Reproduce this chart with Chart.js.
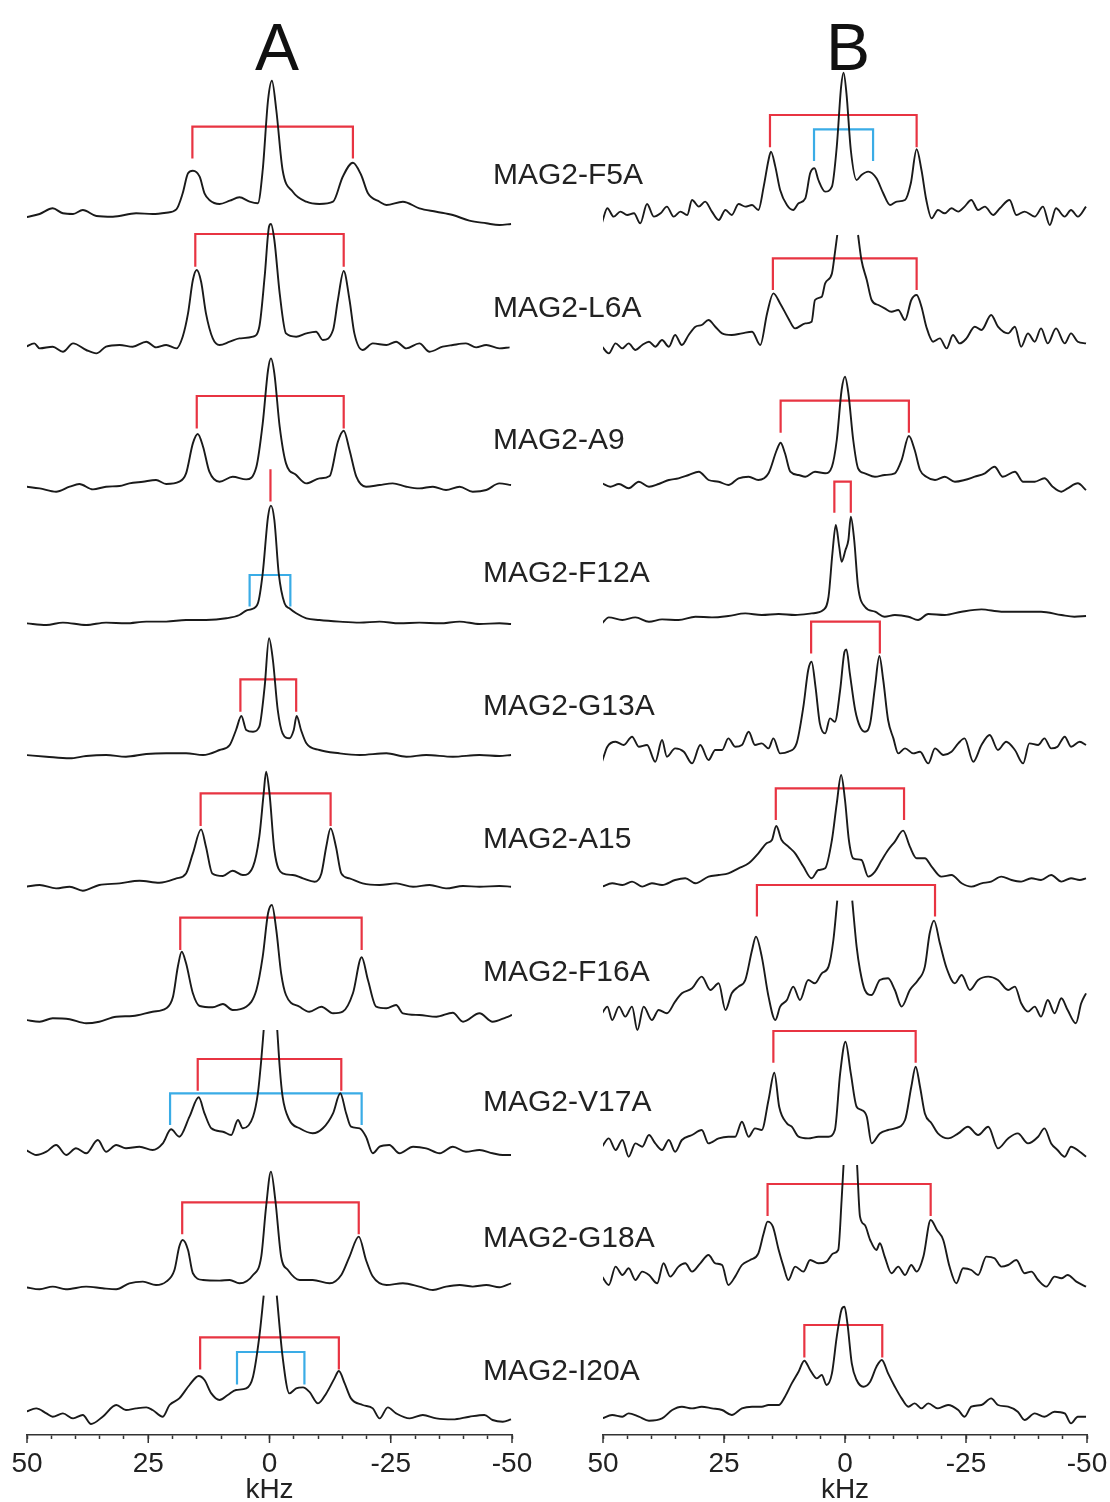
<!DOCTYPE html>
<html>
<head>
<meta charset="utf-8">
<script src="https://cdn.jsdelivr.net/npm/chart.js@4.4.1/dist/chart.umd.min.js"></script>
<style>
  html, body { margin:0; padding:0; background:#fff; }
  #page { position:relative; width:1110px; height:1502px; overflow:hidden; background:#fff;
          font-family:"Liberation Sans", Arial, sans-serif; color:#222; }
  canvas { position:absolute; top:0; }
  .ttl { position:absolute; font-size:66px; line-height:66px; width:100px; text-align:center; color:#111; }
  .lbl { position:absolute; font-size:30px; line-height:30px; white-space:nowrap; color:#222; z-index:5; }
</style>
</head>
<body>
<div id="page">
  <canvas id="cA" width="555" height="1512" style="left:0"></canvas>
  <canvas id="cB" width="600" height="1512" style="left:555px"></canvas>
</div>
<script>
// ---------------- DATA (kHz, intensity above local baseline) ----------------
const panelTitles = ['A', 'B'];
const mutants = ['MAG2-F5A','MAG2-L6A','MAG2-A9','MAG2-F12A','MAG2-G13A','MAG2-A15','MAG2-F16A','MAG2-V17A','MAG2-G18A','MAG2-I20A'];
const majorTicks = [50, 25, 0, -25, -50];
const axisTitle = 'kHz';

const A_F5A = [[50.2,-2.3],[47.4,1],[44.7,6.7],[42.6,1.7],[40.5,1],[38.5,5],[35.7,-1],[32.3,-1.7],[27.5,1.7],[24.1,1],[21.3,2.3],[19.2,5.7],[17.9,21.7],[16.8,41.7],[15.8,44.3],[14.4,38.3],[13.4,21.7],[12.4,15],[10.3,11],[8.2,14.3],[6.2,17.7],[4.1,13.3],[2.4,11.7],[1.4,45],[0.3,115],[-0.5,134.3],[-1.4,105],[-2.7,45],[-4.8,23.3],[-7.6,13.3],[-10.3,11],[-13.1,13.3],[-15.1,38.3],[-17.2,52.3],[-18.9,40],[-20.3,21.7],[-22.7,13.3],[-24.1,10],[-27.5,13.3],[-30.9,6.7],[-34.4,3.3],[-37.8,0],[-41.2,-5.7],[-44.7,-8.3],[-47.4,-10],[-49.8,-9]];
const A_L6A = [[50.2,0],[48.5,3.3],[47.4,-1.7],[44.7,0],[42.6,-5],[40.5,3.3],[37.8,-3.3],[35.7,-6.7],[33.7,0],[30.9,1.7],[28.2,0],[25.4,5],[23.4,-0.7],[21.3,1.7],[19.2,-1.7],[17.9,10],[16.8,33.3],[15.8,66.7],[15.0,76.7],[14.1,65],[13.1,33.3],[11.7,8.3],[10.3,1.7],[8.2,5],[6.2,8.3],[3.4,10],[2.1,20],[1.0,70],[0.1,120],[-0.3,122.7],[-1.0,106.7],[-2.1,53.3],[-3.4,13.3],[-5.5,10],[-7.6,13.3],[-9.6,15],[-11.0,6.7],[-13.1,16.7],[-14.1,46.7],[-15.3,75.7],[-16.5,46.7],[-17.5,13.3],[-19.2,-3.3],[-21.3,3.3],[-24.1,1.7],[-26.1,5],[-28.2,-1.7],[-30.9,3.3],[-33.0,-5],[-35.7,0],[-37.8,1.7],[-40.5,3.3],[-42.6,-0.7],[-44.7,1.7],[-47.4,-1.7],[-49.5,-0.7]];
const A_A9 = [[50.2,0],[47.4,-1.7],[44.0,-5],[41.2,0],[39.2,2.7],[36.4,-2.7],[33.7,0],[30.9,0.7],[28.9,3.3],[26.1,5],[23.4,6.7],[21.3,2.7],[18.6,5],[17.2,13.3],[15.8,43.3],[14.8,52.7],[13.7,40],[12.4,15],[10.3,5],[7.6,10],[4.8,7.3],[2.7,20],[1.4,63.3],[0.3,116.7],[-0.3,128.3],[-1.0,113.3],[-2.1,60],[-3.4,23.3],[-5.5,11.7],[-7.6,3.3],[-10.3,8.3],[-12.4,10.7],[-14.1,45],[-15.3,56],[-16.5,36.7],[-17.9,10],[-19.9,0],[-22.7,1.7],[-25.4,3.3],[-28.2,0],[-30.9,-1.7],[-33.7,0],[-36.4,-3.3],[-39.2,0],[-41.9,-5],[-44.7,-3.3],[-47.4,3.3],[-49.8,1.7]];
const A_F12A = [[50.2,0],[46.0,-1.7],[42.6,0.7],[37.8,-1.7],[33.7,0.7],[29.6,0],[25.4,1.7],[21.3,1.7],[17.2,3.3],[13.1,3.3],[8.9,5],[6.2,8.3],[4.8,12.7],[3.8,14],[2.4,20],[1.4,50],[0.3,106.7],[-0.3,117.7],[-1.0,103.3],[-1.9,50],[-3.1,20],[-4.1,15],[-5.5,10],[-7.6,5],[-10.3,3.3],[-14.4,1.7],[-18.6,0.7],[-22.7,1.7],[-26.8,0],[-30.9,0.7],[-35.1,0],[-39.2,1.7],[-43.3,-0.7],[-47.4,0],[-49.8,-0.7]];
const A_G13A = [[50.2,0],[46.0,-1.7],[41.2,-3.3],[37.8,-1],[33.7,0],[29.6,-1.7],[25.4,1],[21.3,1.7],[17.2,1.7],[13.7,0],[10.3,5],[8.2,10],[6.9,25],[5.8,39],[4.8,25],[3.4,23.3],[2.1,28.3],[1.0,68.3],[0.1,116.7],[-0.7,95],[-1.7,45],[-2.7,21.7],[-4.1,16.7],[-5.0,25],[-5.6,39],[-6.5,25],[-7.6,11.7],[-10.3,5],[-14.4,1.7],[-18.6,0],[-24.1,1.7],[-28.2,-1.7],[-32.3,0],[-37.8,-1.7],[-43.3,0],[-47.4,-1],[-49.8,0]];
const A_A15 = [[50.2,0],[47.4,1.7],[44.0,-1.7],[41.2,0],[38.5,-4],[35.1,1.7],[30.9,3.3],[26.8,6],[22.7,4],[19.2,8.3],[17.2,13.3],[15.8,33.3],[14.1,57.3],[13.1,40],[11.8,13.3],[9.6,10.7],[7.6,16],[5.5,11.7],[3.4,20],[2.1,50],[1.2,93.3],[0.7,115],[0,93.3],[-1.0,36.7],[-2.7,13.3],[-4.8,11.7],[-6.9,8.3],[-9.3,5],[-10.7,13.3],[-11.7,40],[-12.6,58.3],[-13.7,40],[-14.8,13.3],[-16.5,8.3],[-19.2,3.3],[-22.7,1.7],[-26.1,3.3],[-29.6,0],[-33.0,1.7],[-36.4,-1.7],[-39.9,0.7],[-43.3,0],[-47.4,0.7],[-49.8,0]];
const A_F16A = [[50.2,0],[47.4,-1.7],[44.7,1.7],[41.2,0.7],[37.8,-3.3],[35.1,-1.7],[31.6,3.3],[28.2,4],[24.1,8.3],[21.3,11.7],[19.9,23.3],[18.9,53.3],[18.1,68.3],[17.2,56.7],[15.8,26.7],[14.4,14],[11.7,12.7],[9.6,16],[7.6,10],[4.8,13.3],[2.7,30],[1.4,63.3],[0.3,106.7],[-0.5,115],[-1.4,90],[-2.4,46.7],[-3.4,25],[-6.2,13.3],[-8.2,8.3],[-10.7,13.3],[-13.1,6.7],[-15.1,8.3],[-17.2,26.7],[-19.0,62.7],[-20.3,40],[-22.0,13.3],[-24.1,11.7],[-26.1,15],[-27.5,6.7],[-30.9,5],[-34.4,3.3],[-37.8,7.3],[-39.9,-1.7],[-43.3,6.7],[-46.0,-1.7],[-48.8,2.7],[-50.0,5]];
const A_V17A = [[50.2,0],[48.1,-5],[46.0,-1.7],[44.0,5],[41.9,-5],[39.9,1.7],[37.8,-3.3],[35.4,10],[33.7,-1.7],[31.6,5],[29.6,1.7],[26.8,3.3],[24.1,0],[22.0,6.7],[20.3,20.7],[18.6,13.3],[16.5,33.3],[14.6,52.7],[13.4,36.7],[12.0,21.7],[9.6,18.3],[7.9,15],[6.5,30],[5.5,21.7],[3.4,33.3],[2.4,56.7],[1.7,90],[1.2,120],[0,null],[-1.6,120],[-2.1,83.3],[-2.7,53.3],[-4.1,30],[-6.2,21.7],[-8.9,16.7],[-11.0,21.7],[-13.1,36.7],[-14.6,56.7],[-15.8,36.7],[-16.8,23.3],[-18.6,21.7],[-19.9,13.3],[-21.3,-3.3],[-22.7,3.3],[-24.7,5],[-26.8,-3.3],[-29.6,3.3],[-32.3,1.7],[-35.1,-3.3],[-37.8,3.3],[-40.5,-1.7],[-43.3,0],[-46.0,-3.3],[-48.1,-5],[-49.8,-5]];
const A_G18A = [[50.2,1],[47.4,-1],[44.7,1.7],[42.0,-1],[37.8,1.7],[34.4,0],[31.6,-1],[28.9,5],[26.1,6.7],[23.4,3.3],[21.3,6.7],[19.6,18.3],[18.6,41.7],[17.9,48.3],[16.8,38.3],[15.8,15],[13.7,8.3],[10.3,7.7],[8.2,8.3],[6.2,5],[3.4,13.3],[1.7,31.7],[0.7,81.7],[-0.3,116.7],[-1.2,88.3],[-2.4,31.7],[-3.8,18.3],[-6.2,8.3],[-8.9,8.3],[-12.4,5],[-14.8,13.3],[-16.5,31.7],[-18.4,51.7],[-19.9,28.3],[-21.3,11.7],[-24.1,3.3],[-27.5,5],[-30.9,1.7],[-33.7,-1.7],[-36.4,1.7],[-39.2,3.3],[-41.9,1.7],[-44.7,3.3],[-47.4,1],[-49.8,5]];
const A_I20A = [[50.2,5],[48.1,8.3],[46.0,3.3],[44.7,0],[42.6,3.3],[40.5,-1.7],[38.5,1.7],[36.8,-7.3],[34.4,0],[31.6,11.7],[29.6,6.7],[27.5,8.3],[25.4,9.3],[24.1,6.7],[22.0,0],[20.6,11.7],[18.6,18.3],[16.5,31.7],[14.6,40.7],[13.4,36.7],[12.0,23.3],[10.3,16.7],[8.6,21.7],[6.9,26.7],[4.8,28.3],[3.4,40],[2.1,80],[1.2,121],[0,null],[-1.5,121],[-2.7,60],[-4.1,23.3],[-5.5,28.3],[-6.9,29.3],[-8.2,25],[-10.0,13.3],[-11.7,23.3],[-13.4,38.3],[-14.3,45.7],[-15.5,33.3],[-16.8,18.3],[-19.2,11.7],[-21.3,8.3],[-22.7,-1.7],[-24.4,9.3],[-26.1,3.3],[-28.9,-1.7],[-31.6,1.7],[-34.4,-1.7],[-37.8,-2.7],[-41.2,0],[-44.3,1.7],[-46.0,-3.3],[-48.1,-5],[-49.8,-2.7]];

const B_F5A = [[50.2,-9.3],[49.1,5],[47.8,-3.3],[46.4,1.7],[45.0,-1.7],[43.6,0],[42.3,-10],[40.9,9.3],[39.5,-3.3],[38.1,0],[36.8,6.7],[35.4,-3.3],[34.0,1.7],[32.6,-1.7],[31.6,13.3],[30.2,6.7],[28.9,11.7],[27.5,1.7],[26.1,-6.7],[24.7,3.3],[23.4,-1.7],[22.0,9.3],[20.6,6.7],[19.2,8.3],[17.9,3.3],[16.8,26.7],[15.8,53.3],[15.3,61.7],[14.4,46.7],[13.4,23.3],[12.0,8.3],[10.7,3.3],[9.6,10],[8.2,15],[7.2,40],[6.3,45],[5.5,33.3],[4.1,21.7],[2.7,26.7],[1.7,66.7],[0.8,126.7],[0.3,140.7],[-0.3,120],[-1.2,63.3],[-2.4,33.3],[-3.4,38.3],[-4.8,41.7],[-6.5,35],[-7.9,20],[-9.3,8.3],[-10.7,11.7],[-12.4,13.3],[-13.6,30],[-14.8,64],[-15.8,43.3],[-16.8,13.3],[-17.9,-5],[-19.2,3.3],[-20.6,0],[-22.0,5],[-23.4,1.7],[-24.7,6.7],[-26.1,13.3],[-27.5,3.3],[-28.9,6.7],[-30.6,-1.7],[-32.0,5],[-34.0,13.3],[-35.4,-1.7],[-37.1,1.7],[-39.2,-3.3],[-40.9,6.7],[-42.3,-11.7],[-43.6,5],[-45.4,-3.3],[-46.7,3.3],[-48.1,-3.3],[-49.8,6.7]];
const B_L6A = [[50.2,0],[48.8,-6.7],[47.4,3.3],[46.0,-1.7],[44.7,3.3],[43.3,-3.3],[41.9,1.7],[40.5,5],[39.2,0],[37.8,6.7],[36.4,0],[35.1,11.7],[33.7,1.7],[32.3,11.7],[30.9,20],[29.6,21.7],[28.2,26.7],[26.8,20],[25.4,13.3],[23.4,11.7],[21.3,13.3],[19.2,15],[17.5,1.7],[16.1,33.3],[14.8,53.3],[13.4,43.3],[11.7,28.3],[10.3,18.3],[8.2,23.3],[6.9,25],[6.2,46.7],[4.8,50],[4.1,63.3],[2.7,73.3],[2.1,93.3],[1.6,111.7],[-0.5,null],[-2.7,111.7],[-3.4,86.7],[-4.5,66.7],[-5.5,46.7],[-6.9,41.7],[-8.2,38.3],[-9.6,35],[-11.0,36.7],[-12.4,26.7],[-13.7,46.7],[-14.8,51.7],[-15.8,40],[-16.8,20],[-18.2,5],[-19.6,8.3],[-21.0,-1.7],[-22.3,11.7],[-23.7,3.3],[-25.1,8.3],[-26.8,20],[-28.2,16.7],[-30.2,31.7],[-31.6,20],[-33.7,13.3],[-35.1,20],[-36.4,0],[-37.8,13.3],[-39.2,5],[-40.5,18.3],[-41.9,3.3],[-43.6,18.3],[-45.4,3.3],[-46.7,13.3],[-48.1,5],[-49.8,3.3]];
const B_A9 = [[50.2,1.7],[48.5,-1.7],[46.7,1],[44.7,-3.3],[42.6,3.3],[40.5,-1.7],[38.5,1],[36.4,5],[34.4,6.7],[32.3,10],[30.2,13.3],[28.2,5],[26.1,3.3],[24.1,0],[22.0,6.7],[19.9,8.3],[17.9,5],[15.8,11.7],[14.1,35],[13.3,42.3],[12.4,31.7],[11.3,13.3],[9.6,10],[8.2,8.3],[6.2,13.3],[4.1,11.7],[2.7,18.3],[1.7,45],[0.7,95],[0,108.3],[-0.7,91.7],[-1.7,45],[-2.7,16.7],[-4.1,11.7],[-6.2,8.3],[-8.2,10],[-10.3,11.7],[-11.7,25],[-13.2,49],[-14.4,35],[-15.5,15],[-16.8,8.3],[-18.6,5],[-20.6,8.3],[-22.7,3.3],[-24.7,5],[-26.8,8.3],[-28.9,11.7],[-30.9,18.3],[-32.6,8.3],[-35.1,13.3],[-36.8,3.3],[-39.2,3.3],[-41.2,6.7],[-42.9,-1.7],[-44.7,-6.7],[-46.0,-3.3],[-48.1,1.7],[-49.8,-5]];
const B_F12A = [[50.2,-6.7],[48.8,-0.7],[46.0,-3.3],[43.3,-0.7],[40.5,-5],[37.8,-2.7],[34.4,-3.3],[30.9,0],[27.5,-0.7],[24.1,0.7],[20.6,3.3],[17.2,1.7],[13.7,2.7],[10.3,1.7],[6.9,3.3],[4.5,6.7],[3.4,20],[2.6,63.3],[1.9,91.7],[1.2,70],[0.7,55],[-0.1,66.7],[-0.7,76.7],[-1.2,100],[-1.9,76.7],[-2.7,30],[-4.1,10],[-6.2,5],[-8.2,0],[-10.3,1.7],[-13.1,0],[-15.1,-3.3],[-17.2,2.7],[-20.6,1.7],[-24.1,5],[-28.2,7.3],[-32.3,5],[-36.4,5],[-40.5,5],[-44.7,1.7],[-47.4,0],[-49.8,0.7]];
const B_G13A = [[50.2,-10],[49.1,5],[47.4,10],[45.7,6.7],[44.0,15],[42.6,5],[40.9,6.7],[39.2,-10],[37.8,11.7],[36.8,-5],[35.1,3.3],[33.3,0],[31.6,-11.7],[29.9,6.7],[28.2,-8.3],[26.8,1.7],[25.4,1.7],[24.1,13.3],[22.7,5],[21.3,6.7],[19.9,20],[18.6,6.7],[17.2,8.3],[15.8,3.3],[14.8,13.3],[13.4,-1.7],[11.7,0],[10.0,8.3],[8.6,45],[7.6,81.7],[6.9,90],[6.1,65],[5.2,28.3],[4.1,18.3],[3.1,33.3],[2.1,30],[1.0,61.7],[0.1,100],[-0.3,102.3],[-1.0,78.3],[-2.1,41.7],[-3.1,25],[-4.1,20],[-5.2,28.3],[-6.2,65],[-7.1,95.7],[-7.9,71.7],[-8.9,31.7],[-10.0,13.3],[-11.0,-1.7],[-12.4,3.3],[-14.1,-1.7],[-15.5,0],[-17.2,-11.7],[-18.6,3.3],[-20.3,-3.3],[-22.0,0],[-23.4,8.3],[-24.7,13.3],[-26.5,-10],[-28.2,6.7],[-29.9,16.7],[-31.6,1.7],[-33.3,10],[-35.1,1.7],[-36.8,-11.7],[-38.1,8.3],[-39.9,6.7],[-41.2,13.3],[-42.6,3.3],[-43.9,5],[-45.4,15],[-46.7,5],[-48.5,10],[-49.8,6.7]];
const B_A15 = [[50.2,-3.3],[48.1,0],[46.0,-1.7],[44.0,1.7],[41.9,-3.3],[39.9,0],[37.8,-1.7],[35.1,3.3],[33.0,5],[30.9,0],[28.2,6.7],[26.1,8.3],[24.1,10],[22.0,15],[19.9,20],[17.9,30],[16.2,40],[15.1,43.3],[14.2,57.3],[13.1,43.3],[11.7,36.7],[10.3,30],[8.6,16.7],[6.9,5],[5.5,13.3],[4.1,15],[2.7,43.3],[1.7,80],[0.8,108.3],[0,83.3],[-0.8,43.3],[-1.7,25],[-3.4,23.3],[-4.8,6.7],[-6.2,11.7],[-7.6,23.3],[-8.9,33.3],[-10.3,41.7],[-12.0,52.7],[-13.4,36.7],[-14.8,25],[-16.5,25],[-17.9,16.7],[-19.9,6.7],[-22.0,8.3],[-24.1,0],[-26.1,-3.3],[-28.2,0],[-30.2,1.7],[-32.3,6.7],[-34.4,3.3],[-36.4,1.7],[-38.5,5],[-40.5,3.3],[-42.6,8.3],[-44.7,1.7],[-46.7,5],[-48.5,3.3],[-49.8,5]];
const B_F16A = [[50.2,0],[49.1,6.7],[48.1,-6.7],[46.7,6.7],[45.4,-3.3],[44.0,6.7],[42.9,-16.7],[41.6,6.7],[39.9,-6.7],[38.5,3.3],[36.8,0],[35.1,11.7],[33.7,20],[31.6,25],[29.6,36.7],[27.8,23.3],[26.1,30],[24.7,3.3],[23.4,20],[22.0,26.7],[20.6,33.3],[19.2,63.3],[18.4,76.7],[17.2,56.7],[15.8,16.7],[14.4,-6.7],[13.4,6.7],[12.0,13.3],[10.7,26.7],[9.3,13.3],[7.6,33.3],[6.2,30],[4.8,40],[3.4,46.7],[2.4,73.3],[1.6,112.7],[0,null],[-1.5,112.7],[-2.4,66.7],[-3.1,43.3],[-4.1,23.3],[-5.5,18.3],[-7.2,33.3],[-8.9,35],[-10.3,23.3],[-11.7,6.7],[-13.4,23.3],[-15.1,33.3],[-16.5,46.7],[-17.5,80],[-18.4,92.7],[-19.6,70],[-21.0,45],[-22.7,30],[-24.1,38.3],[-25.8,23.3],[-27.5,33.3],[-29.6,36.7],[-31.6,33.3],[-33.7,23.3],[-35.1,26.7],[-36.4,10],[-37.8,1.7],[-39.2,6.7],[-40.5,-3.3],[-41.9,13.3],[-43.3,0],[-44.7,15],[-46.0,3.3],[-47.7,-10],[-48.8,10],[-49.8,20]];
const B_V17A = [[50.2,0],[48.8,8.3],[47.4,-3.3],[46.0,6.7],[44.7,-10],[43.3,3.3],[41.9,0],[40.5,11.7],[39.2,3.3],[37.8,-3.3],[36.4,6.7],[35.1,-5],[33.7,6.7],[31.6,11.7],[29.6,16.7],[28.2,3.3],[26.1,8.3],[24.1,10],[22.7,10],[21.3,25],[19.9,10],[18.6,18.3],[17.2,16.7],[15.8,46.7],[14.6,74],[13.6,40],[12.0,23.3],[11.0,20],[9.6,10],[7.6,8.3],[5.5,10],[3.4,10],[2.1,16.7],[1.0,73.3],[-0.1,105],[-1.2,73.3],[-2.4,40],[-3.4,36.7],[-4.5,30],[-5.5,3.3],[-7.2,13.3],[-8.9,16.7],[-10.3,18.3],[-12.4,26.7],[-13.7,60],[-14.6,80],[-15.5,60],[-16.5,33.3],[-17.9,23.3],[-19.2,13.3],[-21.3,8.3],[-23.4,13.3],[-25.4,20],[-27.5,11.7],[-29.6,20],[-31.6,-1.7],[-33.7,8.3],[-35.7,13.3],[-37.8,3.3],[-39.9,10],[-41.2,18.3],[-42.6,3.3],[-43.9,-3.3],[-45.4,-10],[-46.7,0],[-48.5,-5],[-49.8,-10]];
const B_G18A = [[50.2,1.7],[48.8,-6.7],[47.4,11.7],[46.0,3.3],[44.7,10],[43.3,-1.7],[41.9,6.7],[40.5,3.3],[38.8,-5],[37.5,15],[36.1,1.7],[34.4,11.7],[33.0,15],[31.6,6.7],[29.9,15],[28.2,23.3],[26.8,15],[25.4,13.3],[24.1,-6.7],[22.7,1.7],[21.3,13.3],[19.6,18.3],[17.9,25],[16.8,45],[16.0,56.7],[14.9,51.7],[13.7,28.3],[12.7,11.7],[11.7,-1.7],[10.3,11.7],[8.6,6.7],[7.2,18.3],[5.5,15],[3.8,16.7],[2.4,25],[1.4,28.3],[0.7,78.3],[0.3,113.3],[-1.1,null],[-2.5,113.3],[-3.1,61.7],[-4.1,53.3],[-5.2,38.3],[-6.5,28.3],[-7.2,35],[-8.2,21.7],[-9.6,5],[-11.0,11.7],[-12.4,3.3],[-13.7,13.3],[-14.8,6.7],[-16.2,21.7],[-17.7,58.3],[-19.0,48.3],[-20.3,38.3],[-21.6,11.7],[-23.0,-5],[-24.4,10],[-26.1,8.3],[-27.5,3.3],[-29.2,21.7],[-30.9,20],[-32.3,11.7],[-33.7,13.3],[-35.4,18.3],[-37.1,5],[-38.5,6.7],[-39.9,-1.7],[-41.6,-8.3],[-43.3,1.7],[-44.7,0],[-46.0,3.3],[-47.8,-3.3],[-49.8,-8.3]];
const B_I20A = [[50.2,-1.7],[48.1,1.7],[46.0,0],[44.7,3.3],[42.6,0],[40.5,-4],[37.8,-1.7],[35.7,6.7],[33.7,10],[31.6,8.3],[29.6,10],[27.5,8.3],[25.4,6.7],[23.4,1.7],[21.3,8.3],[19.2,10],[17.2,10],[15.8,11.7],[13.7,11.7],[12.4,20],[11.0,33.3],[9.6,45],[8.4,56],[7.2,46.7],[5.8,38.3],[4.8,41.7],[3.8,31.7],[2.7,43.3],[1.7,80],[0.7,107.3],[0.1,110],[-0.5,93.3],[-1.4,53.3],[-2.4,36.7],[-3.8,30],[-5.2,35],[-6.5,50],[-7.6,56.7],[-8.9,43.3],[-10.3,30],[-11.7,18.3],[-13.1,10],[-14.4,13.3],[-15.8,8.3],[-17.2,13.3],[-19.2,8.3],[-21.3,11.7],[-23.4,6.7],[-24.7,0],[-26.1,10],[-28.2,11.7],[-30.2,18.3],[-31.6,11.7],[-33.7,10],[-35.7,5],[-37.1,-3.3],[-39.2,3.3],[-41.2,0],[-43.3,5],[-45.4,3.3],[-46.7,-6.7],[-48.1,0],[-49.8,0]];

// brackets: [spectrum index, kind, left kHz, right kHz, top, leg end]
const bracketsA = [
  [0,'red',15.9,-17.2,88.3,56.5],
  [1,'red',15.3,-15.3,112.7,80],
  [2,'red',15.0,-15.3,90.7,58.3],
  [3,'red',-0.2,-0.2,154,121.7],
  [3,'blue',4.1,-4.3,48.3,16.7],
  [4,'red',6.0,-5.5,75.7,43.3],
  [5,'red',14.2,-12.6,93.3,60.7],
  [6,'red',18.4,-19.0,102.3,70],
  [7,'red',14.8,-14.8,91,59.3],
  [7,'blue',20.5,-19.0,56.7,25],
  [8,'red',18.0,-18.4,86,54],
  [9,'red',14.3,-14.3,79.3,47.3],
  [9,'blue',6.7,-7.2,64.7,32.3]
];
const bracketsB = [
  [0,'red',15.5,-14.8,98.3,66],
  [0,'blue',6.4,-5.8,84,52.3],
  [1,'red',14.9,-14.8,88.3,56.7],
  [2,'red',13.3,-13.2,84.3,52.3],
  [3,'red',2.2,-1.2,135,104],
  [4,'red',7.0,-7.2,130,98.3],
  [5,'red',14.3,-12.2,95,63.3],
  [6,'red',18.2,-18.6,128.3,96.7],
  [7,'red',14.8,-14.6,115.7,84],
  [8,'red',16.0,-17.7,94.3,62.3],
  [9,'red',8.4,-7.7,91.7,59.3]
];
const spectraA = [A_F5A, A_L6A, A_A9, A_F12A, A_G13A, A_A15, A_F16A, A_V17A, A_G18A, A_I20A];
const spectraB = [B_F5A, B_L6A, B_A9, B_F12A, B_G13A, B_A15, B_F16A, B_V17A, B_G18A, B_I20A];

// ---------------- LAYOUT / STYLE ----------------
const AXIS_Y = 1435;                 // pixel of x axis line (= chart area bottom)
const CANVAS_H = 1512;
const baseA = [215, 346.7, 486.7, 623.3, 755, 886.7, 1020, 1150, 1288.3, 1416.7];
const baseB = [213.3, 346.7, 485, 616.7, 751.7, 883.3, 1013.3, 1146.7, 1278.3, 1416.7];
const labelPos = [[493,174],[493,307],[493,439],[483,572],[483,705],[483,838],[483,971],[483,1101],[483,1237],[483,1370]];
const titlePos = [[277,46],[848,46]];
const COLORS = { red: 'rgb(232,52,66)', blue: 'rgb(58,172,230)', line: '#1a1a1a', axis: '#333' };
const FONT = "'Liberation Sans', Arial, Helvetica, sans-serif";

const page = document.getElementById('page');
panelTitles.forEach((t, i) => {
  const d = document.createElement('div');
  d.className = 'ttl'; d.textContent = t;
  d.style.left = (titlePos[i][0] - 50) + 'px';
  d.style.top = (titlePos[i][1] - 32) + 'px';
  page.appendChild(d);
});
mutants.forEach((m, i) => {
  const d = document.createElement('div');
  d.className = 'lbl'; d.textContent = m;
  d.style.left = labelPos[i][0] + 'px';
  d.style.top = (labelPos[i][1] - 15) + 'px';
  page.appendChild(d);
});

const majorTickPlugin = {
  id: 'majorTicks',
  afterDraw(chart) {
    const sc = chart.scales.x, ctx = chart.ctx;
    ctx.save();
    ctx.strokeStyle = COLORS.axis; ctx.lineWidth = 1.5;
    majorTicks.forEach(v => {
      const px = sc.getPixelForValue(v);
      ctx.beginPath(); ctx.moveTo(px, sc.top); ctx.lineTo(px, sc.top + 8); ctx.stroke();
    });
    ctx.restore();
  }
};

function makeChart(canvasId, spectra, bases, brackets, padLeft, padRight) {
  const datasets = [];
  spectra.forEach((sp, i) => {
    const off = AXIS_Y - bases[i];
    datasets.push({
      data: sp.map(([k, h]) => ({ x: k, y: h === null ? null : off + h })),
      borderColor: COLORS.line, borderWidth: 1.9, pointRadius: 0,
      showLine: true, fill: false, spanGaps: false,
      cubicInterpolationMode: 'monotone', tension: 0.4
    });
  });
  brackets.forEach(([i, kind, x1, x2, top, bot]) => {
    const off = AXIS_Y - bases[i];
    datasets.push({
      data: [{x:x1,y:off+bot},{x:x1,y:off+top},{x:x2,y:off+top},{x:x2,y:off+bot}],
      borderColor: COLORS[kind], borderWidth: 2.2, pointRadius: 0,
      showLine: true, fill: false, tension: 0, borderJoinStyle: 'miter', borderCapStyle: 'butt'
    });
  });
  return new Chart(document.getElementById(canvasId), {
    type: 'scatter',
    data: { datasets },
    options: {
      responsive: false, animation: false, devicePixelRatio: 1,
      layout: { padding: { left: padLeft, right: padRight, top: 0, bottom: 0 } },
      plugins: { legend: { display: false }, tooltip: { enabled: false } },
      scales: {
        x: {
          type: 'linear', min: -50, max: 50, reverse: true,
          afterFit: (s) => { s.height = CANVAS_H - AXIS_Y; },
          border: { display: true, color: COLORS.axis, width: 1.5 },
          grid: { display: true, drawOnChartArea: false, drawTicks: true, tickLength: 4, tickColor: COLORS.axis, tickWidth: 1.5 },
          ticks: {
            stepSize: 5, autoSkip: false, maxRotation: 0, padding: 8,
            color: '#222', font: { family: FONT, size: 28 },
            callback: (v) => majorTicks.includes(v) ? String(v) : ''
          },
          title: { display: true, text: axisTitle, color: '#222', font: { family: FONT, size: 28, lineHeight: 1 }, padding: { top: 0, bottom: 8 } }
        },
        y: { type: 'linear', min: 0, max: AXIS_Y, display: false }
      }
    },
    plugins: [majorTickPlugin]
  });
}

makeChart('cA', spectraA, baseA, bracketsA, 27, 555 - 512);
makeChart('cB', spectraB, baseB, bracketsB, 603 - 555, (555 + 600) - 1087);
</script>
</body>
</html>
